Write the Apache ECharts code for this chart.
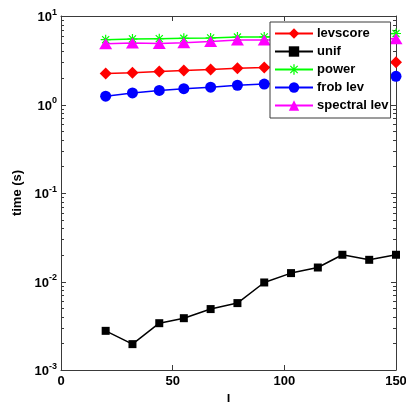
<!DOCTYPE html>
<html>
<head>
<meta charset="utf-8">
<script src="https://cdn.jsdelivr.net/npm/echarts@6/dist/echarts.min.js"></script>
<style>html,body{margin:0;padding:0;background:#fff;}#c{width:406px;height:402px;}</style>
</head>
<body>
<div id="c"></div>
<script>
const lValues = [20, 32, 44, 55, 67, 79, 91, 103, 115, 126, 138, 150];
const levscore = [2.24, 2.28, 2.36, 2.42, 2.48, 2.57, 2.62, 2.68, 2.75, 2.83, 2.91, 3.0];
const unif = [0.00277, 0.00196, 0.00338, 0.00385, 0.00488, 0.0057, 0.00975, 0.01244, 0.01439, 0.02005, 0.01758, 0.02005];
const power = [5.4, 5.5, 5.55, 5.6, 5.66, 5.78, 5.8, 5.9, 6.0, 6.1, 6.2, 6.34];
const frobLev = [1.24, 1.35, 1.44, 1.51, 1.57, 1.65, 1.70, 1.77, 1.84, 1.92, 2.0, 2.08];
const spectralLev = [4.85, 4.95, 4.9, 4.98, 5.15, 5.35, 5.35, 5.4, 5.45, 5.5, 5.55, 5.55];
const seriesNames = ['levscore', 'unif', 'power', 'frob lev', 'spectral lev'];
const xTicks = [0, 50, 100, 150];
const yMajor = [0.001, 0.01, 0.1, 1, 10];
const yMinor = [];
for (let d = -3; d < 1; d++) for (let m = 2; m <= 9; m++) yMinor.push(+(m * Math.pow(10, d)).toPrecision(3));

const X_MIN = 0, X_MAX = 150;
const FONT = 'Liberation Sans';
const asterisk = 'path://M-0.6,-5L0.6,-5L0.6,5L-0.6,5Z M-5,-0.6L5,-0.6L5,0.6L-5,0.6Z M-3.12,-3.96L3.96,3.12L3.12,3.96L-3.96,-3.12Z M3.12,-3.96L3.96,-3.12L-3.12,3.96L-3.96,3.12Z';
const AXIS_COLOR = '#3a3a3a';
const axisLineStyle = {color: AXIS_COLOR, width: 1};

function pairs(ys) { return lValues.map((x, i) => [x, ys[i]]); }

// y-axis ticks on both sides, pointing inward, placed through the axis scale
function tickSeries(values, len) {
  return {
    type: 'custom', silent: true, z: 1, clip: false,
    xAxisIndex: 0, yAxisIndex: 0,
    data: values.map(v => [X_MIN, v]),
    renderItem: function (params, api) {
      const v = api.value(1);
      const l = api.coord([X_MIN, v]);
      const r = api.coord([X_MAX, v]);
      const y = Math.round(l[1]) + 0.5;
      const style = {stroke: AXIS_COLOR, lineWidth: 1};
      return {type: 'group', children: [
        {type: 'line', shape: {x1: l[0], y1: y, x2: l[0] + len, y2: y}, style: style},
        {type: 'line', shape: {x1: r[0] - len, y1: y, x2: r[0], y2: y}, style: style}
      ]};
    }
  };
}

const chart = echarts.init(document.getElementById('c'), null, {renderer: 'canvas'});
const logAxisBase = {type: 'log', logBase: 10, min: 0.001, max: 10, splitLine: {show: false}, minorTick: {show: false}};
chart.setOption({
  animation: false,
  backgroundColor: '#fff',
  grid: {left: 61, right: 10, top: 16, bottom: 32, containLabel: false, outerBoundsMode: 'none'},
  xAxis: [
    {type: 'value', min: X_MIN, max: X_MAX, interval: 50, position: 'bottom',
     name: 'l', nameLocation: 'middle', nameGap: 22,
     nameTextStyle: {fontFamily: FONT, fontWeight: 'bold', fontSize: 13, color: '#000'},
     axisLine: {show: true, onZero: false, lineStyle: axisLineStyle},
     axisTick: {show: true, inside: true, length: 5, lineStyle: axisLineStyle},
     axisLabel: {show: true, margin: 5, fontFamily: FONT, fontWeight: 'bold', fontSize: 13, color: '#000'},
     splitLine: {show: false}},
    {type: 'value', min: X_MIN, max: X_MAX, interval: 50, position: 'top',
     axisLine: {show: true, onZero: false, lineStyle: axisLineStyle},
     axisTick: {show: true, inside: true, length: 5, lineStyle: axisLineStyle},
     axisLabel: {show: false}, splitLine: {show: false}}
  ],
  yAxis: [
    Object.assign({}, logAxisBase, {position: 'left',
     name: 'time (s)', nameLocation: 'middle', nameGap: 30, nameRotate: 90,
     nameTextStyle: {fontFamily: FONT, fontWeight: 'bold', fontSize: 13, color: '#000'},
     axisLine: {show: true, onZero: false, lineStyle: axisLineStyle},
     axisTick: {show: false},
     axisLabel: {show: true, margin: 4, customValues: yMajor,
       formatter: function (v) { const e = Math.round(Math.log10(v)); return '{b|10}{s|' + e + '}'; },
       rich: {
         b: {fontFamily: FONT, fontWeight: 'bold', fontSize: 13, color: '#000', verticalAlign: 'bottom'},
         s: {fontFamily: FONT, fontWeight: 'bold', fontSize: 9, color: '#000', verticalAlign: 'bottom', padding: [0, 0, 7, 0]}
       }}}),
    Object.assign({}, logAxisBase, {position: 'right',
     axisLine: {show: true, onZero: false, lineStyle: axisLineStyle},
     axisTick: {show: false},
     axisLabel: {show: false}})
  ],
  legend: {
    orient: 'vertical', left: 270, top: 22,
    padding: [5, 2, 6, 4], itemGap: 5, itemWidth: 38, itemHeight: 13,
    backgroundColor: '#fff', borderColor: AXIS_COLOR, borderWidth: 1, borderRadius: 0,
    textStyle: {fontFamily: FONT, fontWeight: 'bold', fontSize: 13, color: '#000', padding: [0, 0, 0, -1]},
    data: seriesNames
  },
  series: [
    tickSeries(yMajor, 5),
    tickSeries(yMinor, 3),
    {name: seriesNames[0], type: 'line', xAxisIndex: 0, yAxisIndex: 0, data: pairs(levscore), symbol: 'diamond', symbolSize: 12,
     lineStyle: {color: '#ff0000', width: 1.5}, itemStyle: {color: '#ff0000'}},
    {name: seriesNames[1], type: 'line', xAxisIndex: 0, yAxisIndex: 0, data: pairs(unif), symbol: 'rect', symbolSize: 8,
     lineStyle: {color: '#000000', width: 1.5}, itemStyle: {color: '#000000'}},
    {name: seriesNames[2], type: 'line', xAxisIndex: 0, yAxisIndex: 0, data: pairs(power), symbol: asterisk, symbolSize: 10,
     lineStyle: {color: '#00ff00', width: 1.5}, itemStyle: {color: '#00ff00'}},
    {name: seriesNames[3], type: 'line', xAxisIndex: 0, yAxisIndex: 0, data: pairs(frobLev), symbol: 'circle', symbolSize: 11,
     lineStyle: {color: '#0000ff', width: 1.5}, itemStyle: {color: '#0000ff'}},
    {name: seriesNames[4], type: 'line', xAxisIndex: 0, yAxisIndex: 0, data: pairs(spectralLev), symbol: 'triangle', symbolSize: [13, 11],
     lineStyle: {color: '#ff00ff', width: 1.5}, itemStyle: {color: '#ff00ff'}}
  ]
});
</script>
</body>
</html>
